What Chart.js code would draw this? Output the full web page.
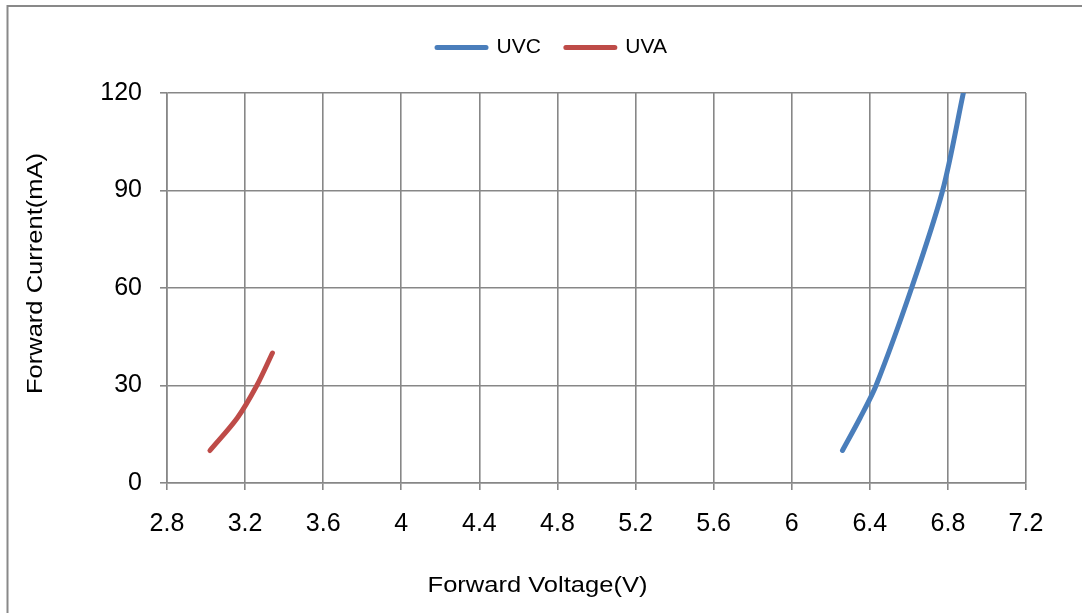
<!DOCTYPE html>
<html>
<head>
<meta charset="utf-8">
<title>Forward Current vs Forward Voltage</title>
<script src="https://cdn.jsdelivr.net/npm/chart.js@4/dist/chart.umd.min.js"></script>
<style>
html,body{margin:0;padding:0;background:#fff;}
#wrap{position:relative;width:1082px;height:613px;}
</style>
</head>
<body>
<div id="wrap"><canvas id="ivChart" width="1082" height="613"></canvas></div>
<script>

/* ============================================================
   DADES
============================================================ */

const uvcVoltage=[6.26,6.35,6.432,6.614,6.773,6.879];
const uvcCurrent=[10,20,30,60,90,120];

const uvaVoltage=[3.02,3.16,3.26,3.34];
const uvaCurrent=[10,20,30,40];

const xTicks=[2.8,3.2,3.6,4,4.4,4.8,5.2,5.6,6,6.4,6.8,7.2];
const yTicks=[0,30,60,90,120];

const seriesNames=["UVC","UVA"];

const xTitle="Forward Voltage(V)";
const yTitle="Forward Current(mA)";



/* ============================================================
   MARC I TÍTOLS DELS EIXOS
============================================================ */

const gridColor="#878787";

const framePlugin={

    id:"frame",

    beforeDraw(chart){

        const ctx=chart.ctx;

        ctx.save();

        ctx.fillStyle="#fff";
        ctx.fillRect(0,0,chart.width,chart.height);

        ctx.strokeStyle="#898989";
        ctx.lineWidth=2;
        ctx.strokeRect(7.5,6,2000,2000);

        ctx.restore();

    },

    afterDraw(chart){

        const ctx=chart.ctx;

        ctx.save();

        ctx.fillStyle="#000";
        ctx.font="22px 'Liberation Sans', Arial, sans-serif";
        ctx.textAlign="center";
        ctx.textBaseline="alphabetic";

        // títol eix X
        ctx.save();
        ctx.translate(537.5,592);
        ctx.scale(1.16,1);
        ctx.fillText(xTitle,0,0);
        ctx.restore();

        // títol eix Y
        ctx.save();
        ctx.translate(42,273.5);
        ctx.rotate(-Math.PI/2);
        ctx.scale(1.16,1);
        ctx.fillText(yTitle,0,0);
        ctx.restore();

        ctx.restore();

    }

};



/* ============================================================
   GRÀFIC
============================================================ */

function toPoints(xs,ys){

    return xs.map((v,i)=>({x:v,y:ys[i]}));

}

const ivChart=document.getElementById("ivChart");

new Chart(ivChart,{

    type:"line",

    data:{

        datasets:[{

            label:seriesNames[0],

            data:toPoints(uvcVoltage,uvcCurrent),

            borderColor:"#4a7ebb",

            backgroundColor:"#4a7ebb",

            borderWidth:5,

            borderCapStyle:"round",

            borderJoinStyle:"round",

            pointRadius:0,

            tension:0.3

        },{

            label:seriesNames[1],

            data:toPoints(uvaVoltage,uvaCurrent),

            borderColor:"#be4b48",

            backgroundColor:"#be4b48",

            borderWidth:5,

            borderCapStyle:"round",

            borderJoinStyle:"round",

            pointRadius:0,

            tension:0.3

        }]

    },

    options:{

        responsive:false,

        animation:false,

        layout:{

            padding:{top:12,left:78,right:56,bottom:0}

        },

        plugins:{

            legend:{

                display:true,

                position:"top",

                labels:{

                    color:"#000",

                    boxWidth:49,

                    boxHeight:0,

                    padding:25,

                    font:{family:"'Liberation Sans', Arial, sans-serif",size:21}

                }

            },

            tooltip:{enabled:false}

        },

        scales:{

            x:{

                type:"linear",

                min:2.8,

                max:7.2,

                afterBuildTicks(axis){

                    axis.ticks=xTicks.map(v=>({value:v}));

                },

                afterFit(axis){

                    axis.height=130;

                },

                grid:{color:gridColor,lineWidth:1.6,tickLength:7},

                border:{color:gridColor,width:1.6},

                ticks:{

                    color:"#000",

                    padding:19,

                    maxRotation:0,

                    font:{family:"'Liberation Sans', Arial, sans-serif",size:25},

                    callback:v=>String(+v.toFixed(1))

                }

            },

            spacer:{

                type:"linear",

                position:"top",

                display:true,

                grid:{display:false},

                border:{display:false},

                ticks:{display:false},

                afterFit(axis){

                    axis.height=25;

                }

            },

            y:{

                min:0,

                max:120,

                afterBuildTicks(axis){

                    axis.ticks=yTicks.map(v=>({value:v}));

                },

                afterFit(axis){

                    axis.width=89;

                },

                grid:{color:gridColor,lineWidth:1.6,tickLength:7},

                border:{color:gridColor,width:1.6},

                ticks:{

                    color:"#000",

                    padding:18,

                    font:{family:"'Liberation Sans', Arial, sans-serif",size:25}

                }

            }

        }

    },

    plugins:[framePlugin]

});

</script>
</body>
</html>
